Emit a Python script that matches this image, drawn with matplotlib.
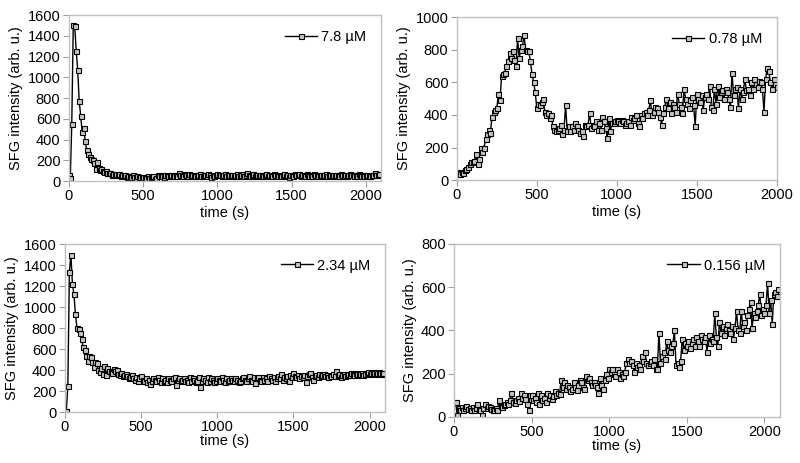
import numpy as np
import matplotlib
matplotlib.use("Agg")
import matplotlib.pyplot as plt

plt.rcParams['font.family'] = ['Liberation Sans', 'DejaVu Sans']
plt.rcParams['font.size'] = 10.5

# sampling grid (s)
t_long = np.arange(0, 2100, 10)
t_short = np.arange(0, 2010, 10)

# 7.8 uM
sfg_78 = [60, 30, 550, 1500, 1490, 1250, 1070, 770, 630, 470,
          510, 390, 300, 260, 230, 210, 200, 170, 120, 180,
          130, 110, 120, 100, 90, 100, 80, 75, 80, 60,
          65, 60, 70, 55, 65, 50, 60, 45, 55, 40,
          50, 45, 35, 55, 40, 30, 45, 35, 40, 30,
          35, 40, 30, 45, 30, 40, 35, 45, 20, 30,
          55, 45, 60, 50, 40, 55, 60, 45, 50, 60,
          55, 45, 60, 50, 75, 55, 60, 45, 70, 55,
          50, 65, 55, 60, 45, 50, 60, 55, 65, 50,
          45, 60, 55, 50, 65, 55, 40, 60, 50, 55,
          70, 55, 60, 45, 55, 65, 50, 60, 55, 45,
          60, 50, 55, 65, 45, 60, 55, 70, 50, 55,
          75, 60, 50, 55, 65, 45, 60, 55, 50, 60,
          55, 45, 60, 65, 50, 55, 60, 45, 65, 55,
          60, 50, 55, 45, 60, 65, 50, 55, 40, 60,
          55, 50, 70, 60, 55, 65, 45, 60, 55, 50,
          65, 55, 50, 60, 45, 65, 55, 60, 50, 55,
          60, 50, 55, 65, 45, 60, 55, 50, 60, 45,
          55, 60, 50, 65, 55, 45, 60, 50, 55, 70,
          60, 55, 45, 60, 50, 65, 55, 45, 60, 50,
          55, 60, 50, 45, 60, 55, 75, 60, 55, 65]

# 0.78 uM
sfg_078 = [50, 45, 40, 50, 45, 60, 70, 80, 100, 110,
           110, 120, 160, 100, 130, 200, 170, 200, 250, 280,
           310, 290, 390, 420, 430, 440, 530, 490, 640, 650,
           660, 700, 730, 780, 750, 790, 740, 700, 870, 750,
           800, 820, 890, 800, 790, 790, 730, 650, 600, 540,
           440, 470, 460, 480, 500, 420, 400, 410, 380, 400,
           330, 310, 300, 310, 320, 340, 280, 310, 460, 300,
           330, 300, 330, 310, 350, 330, 310, 290, 300, 270,
           340, 330, 340, 410, 320, 340, 330, 360, 310, 350,
           310, 390, 360, 320, 260, 380, 300, 350, 350, 360,
           370, 360, 350, 370, 360, 340, 350, 360, 340, 390,
           370, 380, 400, 350, 330, 400, 380, 410, 420, 400,
           430, 490, 400, 420, 450, 440, 420, 390, 340, 410,
           450, 500, 440, 480, 410, 470, 450, 420, 530, 470,
           450, 410, 560, 500, 470, 440, 490, 510, 460, 330,
           530, 500, 480, 520, 430, 510, 530, 500, 580, 450,
           430, 560, 470, 580, 510, 540, 550, 500, 560, 540,
           500, 450, 660, 520, 560, 570, 440, 560, 500, 540,
           620, 550, 560, 520, 600, 560, 620, 590, 570, 610,
           600, 560, 420, 620, 690, 670, 600, 560, 620, 590,
           570]

# 2.34 uM
sfg_234 = [10, 10, 250, 1330, 1500, 1220, 1120, 930, 800, 790,
           750, 700, 620, 590, 530, 490, 530, 520, 480, 430,
           480, 470, 400, 380, 420, 360, 440, 350, 420, 390,
           380, 370, 410, 390, 400, 360, 350, 370, 340, 350,
           360, 340, 320, 330, 350, 320, 310, 330, 300, 320,
           340, 310, 300, 320, 290, 310, 270, 300, 320, 310,
           300, 330, 310, 290, 320, 300, 310, 290, 320, 310,
           300, 320, 330, 260, 310, 320, 300, 310, 320, 300,
           310, 290, 330, 300, 320, 310, 290, 300, 330, 240,
           300, 320, 310, 290, 330, 300, 320, 310, 290, 300,
           320, 310, 300, 330, 310, 290, 320, 300, 310, 320,
           310, 300, 320, 310, 290, 300, 320, 330, 310, 300,
           320, 340, 310, 300, 330, 280, 320, 330, 310, 300,
           330, 310, 320, 300, 340, 320, 310, 330, 300, 320,
           340, 320, 360, 310, 330, 320, 340, 300, 350, 330,
           370, 340, 330, 350, 320, 340, 330, 350, 290, 340,
           360, 370, 330, 310, 340, 350, 330, 360, 340, 350,
           360, 340, 350, 330, 350, 340, 360, 340, 390, 350,
           360, 330, 350, 360, 340, 350, 360, 350, 370, 360,
           350, 370, 360, 350, 360, 370, 350, 360, 370, 380,
           360, 370, 380, 370, 360, 370, 380, 370, 360, 370]

# 0.156 uM
sfg_0156 = [70, 70, 10, 40, 30, 45, 30, 40, 50, 35,
            40, 30, 45, 30, 40, 60, 35, 30, 10, 40,
            60, 40, 50, 45, 35, 30, 30, 40, 30, 80,
            50, 45, 55, 60, 70, 60, 80, 110, 70, 65,
            80, 90, 75, 110, 90, 100, 85, 60, 30, 100,
            100, 80, 90, 70, 110, 60, 100, 80, 90, 70,
            110, 90, 100, 85, 95, 120, 100, 110, 105, 170,
            140, 160, 130, 150, 140, 120, 130, 160, 140, 125,
            150, 170, 160, 140, 130, 190, 170, 180, 160, 150,
            160, 150, 140, 110, 180, 150, 130, 170, 200, 180,
            220, 210, 220, 200, 190, 220, 210, 180, 200, 190,
            210, 250, 270, 250, 260, 240, 210, 250, 230, 240,
            220, 280, 260, 300, 250, 240, 250, 260, 240, 270,
            220, 220, 390, 250, 280, 300, 270, 350, 310, 300,
            330, 340, 400, 240, 250, 230, 260, 360, 310, 340,
            330, 350, 320, 340, 360, 330, 370, 350, 330, 380,
            360, 350, 370, 300, 380, 340, 360, 350, 480, 370,
            330, 440, 390, 420, 380, 410, 430, 400, 390, 420,
            360, 410, 490, 400, 390, 490, 420, 440, 400, 470,
            500, 530, 410, 480, 460, 490, 520, 570, 470, 500,
            480, 520, 620, 480, 540, 430, 570, 580, 560, 590]

panels = [
    # (rect, t, y, label, xmax, ymax, labelpad)
    ([0.086, 0.609, 0.390, 0.3585], t_long, sfg_78, '7.8 µM', 2100, 1600, 2),
    ([0.571, 0.611, 0.400, 0.352], t_short, sfg_078, '0.78 µM', 2000, 1000, 2),
    ([0.081, 0.110, 0.400, 0.363], t_long, sfg_234, '2.34 µM', 2100, 1600, 0),
    ([0.5675, 0.0994, 0.4075, 0.3737], t_long, sfg_0156, '0.156 µM', 2100, 800, 0),
]

fig = plt.figure(figsize=(8, 4.63), dpi=100)
for rect, t, y, lab, xmax, ymax, lp in panels:
    ax = fig.add_axes(rect)
    ax.plot(t, y, color='black', lw=1.0, marker='s', markersize=3.6,
            markerfacecolor='#c4c4c4', markeredgecolor='black',
            markeredgewidth=0.8, label=lab)
    ax.set_xlim(0, xmax)
    ax.set_ylim(0, ymax)
    ax.set_xticks(np.arange(0, xmax + 1, 500))
    ax.set_yticks(np.arange(0, ymax + 1, 200))
    for s in ax.spines.values():
        s.set_color('#c0c0c0')
        s.set_linewidth(1.0)
    ax.tick_params(direction='out', length=4, color='#a0a0a0', pad=2)
    ax.set_xlabel('time (s)', labelpad=lp)
    ax.set_ylabel('SFG intensity (arb. u.)', labelpad=3)
    ax.legend(loc='upper right', frameon=False, handlelength=2.2,
              handletextpad=0.3, borderaxespad=0.6)

fig.savefig('out.png', dpi=100)
